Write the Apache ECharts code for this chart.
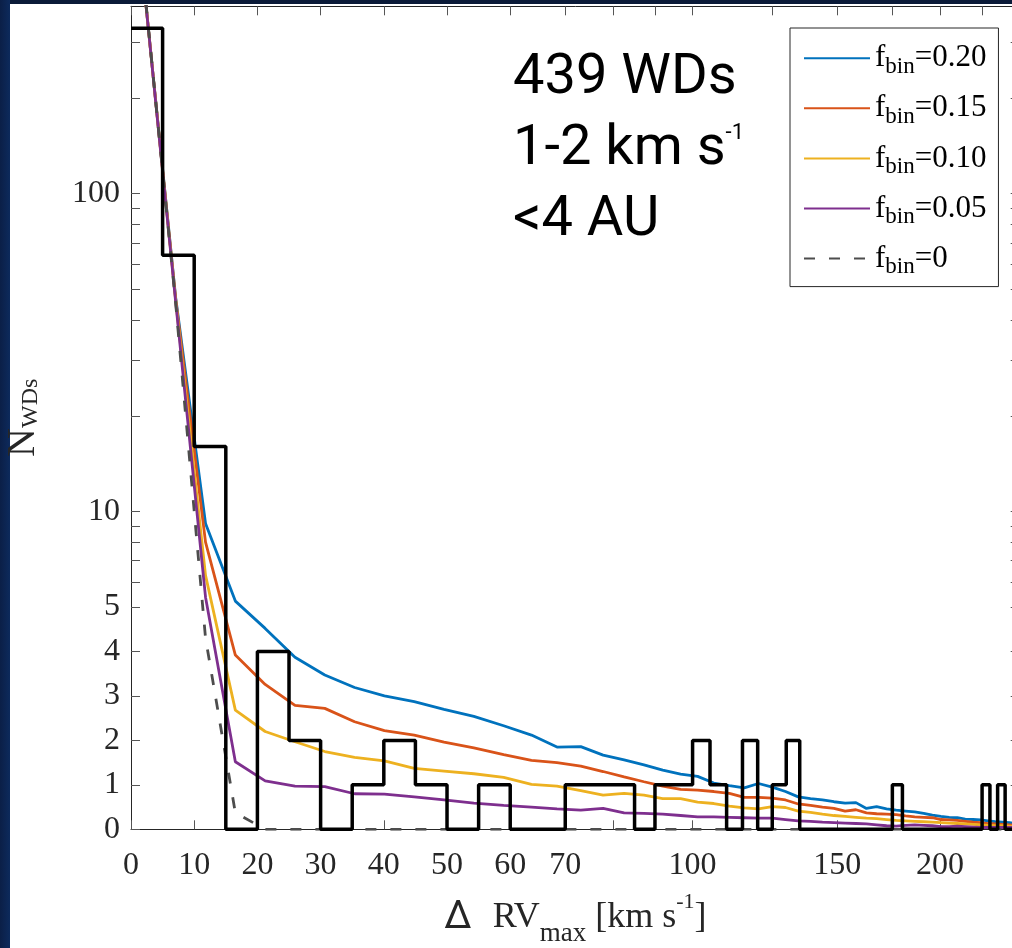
<!DOCTYPE html>
<html><head><meta charset="utf-8">
<script src="https://cdn.jsdelivr.net/npm/echarts@6/dist/echarts.min.js"></script>
<style>
html,body{margin:0;padding:0;width:1012px;height:948px;overflow:hidden;}
body{background:
 linear-gradient(to right, #0b1f47 0px, #0d2a5c 10px, transparent 10px),
 linear-gradient(to bottom, #0a1a38 0px, #0a1a38 4px, #ffffff 4px);}
#chart{position:absolute;left:0;top:0;width:1030px;height:948px;}
</style></head><body><div id="chart"></div>
<script>
// ---------- data ----------
const binWidth = 5;
const histCounts = [332,64,16,0,4,2,0,1,2,1, 0,1,0,0,1,1,1,0,1,1, 2,1,0,2,0,1,2,0,0,0, 0,0,0,0,0,1,0,0,0,0, 0,0,0,0,0,1,0,1,0,0];
const modelStep = 4.717; // model curves sampled at bin centres
const fbin20 = [395,47,9.16,5.22,4.52,3.87,3.47,3.19,3.0,2.87, 2.70,2.54,2.33,2.12,1.85,1.86,1.67,1.56,1.45,1.33, 1.24,1.19,1.04,0.98,0.93,1.03,0.95,0.85,0.73,0.69, 0.66,0.62,0.59,0.60,0.47,0.51,0.46,0.43,0.41,0.39, 0.36,0.32,0.29,0.27,0.26,0.23,0.22,0.21,0.19,0.17, 0.16,0.15,0.13];
const fbin15 = [395,46.5,8.0,3.92,3.26,2.79,2.72,2.42,2.22,2.12, 1.96,1.83,1.68,1.55,1.50,1.42,1.30,1.18,1.07,0.97, 0.90,0.88,0.85,0.81,0.72,0.72,0.70,0.66,0.57,0.54, 0.50,0.47,0.41,0.44,0.37,0.35,0.34,0.33,0.30,0.28, 0.27,0.26,0.22,0.21,0.20,0.18,0.16,0.15,0.13,0.12, 0.11,0.10,0.09];
const fbin10 = [395,46,6.29,2.68,2.20,1.97,1.75,1.62,1.54,1.37, 1.31,1.25,1.17,1.01,0.97,0.87,0.77,0.81,0.77,0.69, 0.69,0.61,0.58,0.52,0.48,0.46,0.51,0.49,0.41,0.38, 0.34,0.31,0.29,0.27,0.25,0.24,0.22,0.20,0.19,0.18, 0.17,0.16,0.15,0.14,0.13,0.12,0.11,0.10,0.09,0.08, 0.08,0.07,0.06];
const fbin05 = [395,45.5,5.37,1.52,1.09,0.97,0.96,0.80,0.79,0.73, 0.66,0.59,0.54,0.50,0.46,0.43,0.47,0.37,0.36,0.34, 0.31,0.28,0.28,0.27,0.26,0.25,0.25,0.22,0.19,0.18, 0.16,0.15,0.14,0.13,0.12,0.10,0.08,0.07,0.09,0.10, 0.09,0.08,0.06,0.06,0.07,0.06,0.05,0.04,0.04,0.04, 0.04,0.04,0.04];
const fbin00 = [400,45,4.30,0.37,0,0,0,0,0,0, 0,0,0,0,0,0,0,0,0,0, 0,0,0,0,0,0,0,0,0,0, 0,0,0,0,0,0,0,0,0,0, 0,0,0,0,0,0,0,0,0,0, 0,0,0];
const seriesNames = ['f_bin=0.20','f_bin=0.15','f_bin=0.10','f_bin=0.05','f_bin=0'];
const xLabelVals = [0,10,20,30,40,50,60,70,100,150,200];
const xTickVals = [0,10,20,30,40,50,60,70,80,90,100,125,150,175,200,225,250];
const yLabelVals = [0,1,2,3,4,5,10,100];
const yTickVals = [0,1,2,3,4,5,6,7,8,9,10,20,30,40,50,60,70,80,90,100,200,300];
const xMaxVal = 250, yMaxVal = 389;

// ---------- axis transforms (linear below break, logarithmic above) ----------
const X_BREAK = 60, X_DEC = 130.06, Y_BREAK = 5, Y_DEC = 7.147;
const xTx = x => x <= X_BREAK ? x : X_BREAK + X_DEC * Math.log10(x / X_BREAK);
const yTx = y => y <= Y_BREAK ? y : Y_BREAK + Y_DEC * Math.log10(y / Y_BREAK);
const labelFor = (vals, tx) => v => { for (const L of vals) if (Math.abs(tx(L) - v) < 1e-6) return String(L); return ''; };

const modelData = arr => arr.map((v, k) => [xTx((k + 0.5) * modelStep), yTx(v)]);
const histData = histCounts.map((c, i) => [xTx(i * binWidth), yTx(c)]);
histData.push([xTx(histCounts.length * binWidth), yTx(histCounts[histCounts.length - 1])]);

const colors = ['#0072BD','#D95319','#EDB120','#7E2F8E','#4d4d4d'];
const curves = [fbin20, fbin15, fbin10, fbin05, fbin00];

const SERIF = 'Liberation Serif';
const axisCol = '#262626';
const tickStyle = {show:true, inside:true, length:9, lineStyle:{color:'#555', width:1}};

const chart = echarts.init(document.getElementById('chart'), null, {renderer:'canvas'});
chart.setOption({
  animation:false,
  backgroundColor:'transparent',
  grid:{left:131, top:6.3, width:888.7, height:823, containLabel:false, outerBoundsMode:'none'},
  xAxis:[{
    type:'value', position:'bottom', min:0, max:xTx(xMaxVal),
    axisLine:{show:true, onZero:false, lineStyle:{color:axisCol, width:1}},
    axisTick:Object.assign({customValues:xTickVals.map(xTx)}, tickStyle),
    axisLabel:{customValues:xLabelVals.map(xTx), formatter:labelFor(xLabelVals, xTx), fontFamily:SERIF, fontSize:32, color:axisCol, margin:20},
    splitLine:{show:false},
    name:'{d|Δ}{t|RV}{sub|max}{t| [km s}{sup|-1}{t|]}',
    nameLocation:'middle', nameGap:59,
    nameTextStyle:{rich:{
      d:{fontFamily:'Roboto', fontSize:39, color:axisCol, lineHeight:59, padding:[0,21,0,0]},
      t:{fontFamily:SERIF, fontSize:36, color:axisCol, lineHeight:59},
      sub:{fontFamily:SERIF, fontSize:27, color:axisCol, verticalAlign:'bottom'},
      sup:{fontFamily:SERIF, fontSize:22, color:axisCol, verticalAlign:'top', padding:[3,0,0,0]}
    }}
  },{
    type:'value', position:'top', min:0, max:xTx(xMaxVal),
    axisLine:{show:true, onZero:false, lineStyle:{color:axisCol, width:1}},
    axisTick:Object.assign({customValues:xTickVals.map(xTx)}, tickStyle),
    axisLabel:{show:false}, splitLine:{show:false}
  }],
  yAxis:[{
    type:'value', position:'left', min:0, max:yTx(yMaxVal),
    axisLine:{show:true, onZero:false, lineStyle:{color:axisCol, width:1}},
    axisTick:Object.assign({customValues:yTickVals.map(yTx)}, tickStyle),
    axisLabel:{customValues:yLabelVals.map(yTx), formatter:labelFor(yLabelVals, yTx), fontFamily:SERIF, fontSize:32, color:axisCol, margin:11},
    splitLine:{show:false},
    name:'{t|N}{sub|WDs}', nameLocation:'middle', nameGap:88,
    nameTextStyle:{rich:{
      t:{fontFamily:SERIF, fontSize:40, color:axisCol, lineHeight:39},
      sub:{fontFamily:SERIF, fontSize:24, color:axisCol, verticalAlign:'bottom'}
    }}
  },{
    type:'value', position:'right', min:0, max:yTx(yMaxVal),
    axisLine:{show:true, onZero:false, lineStyle:{color:axisCol, width:1}},
    axisTick:Object.assign({customValues:yTickVals.map(yTx)}, tickStyle),
    axisLabel:{show:false}, splitLine:{show:false}
  }],
  legend:{
    data:seriesNames, orient:'vertical', left:790, top:28,
    padding:[14.7,12,8,13], itemGap:14.6, itemWidth:66, itemHeight:14,
    itemStyle:{opacity:0},
    backgroundColor:'#ffffff', borderColor:'#262626', borderWidth:1,
    formatter:name => '{f|f}{s|bin}{v|=' + name.split('=')[1] + '}',
    textStyle:{rich:{
      f:{fontFamily:SERIF, fontSize:31, color:'#000', lineHeight:40},
      v:{fontFamily:SERIF, fontSize:31, color:'#000', lineHeight:40},
      s:{fontFamily:SERIF, fontSize:23, color:'#000', lineHeight:10, verticalAlign:'bottom'}
    }}
  },
  graphic:[{
    type:'text', left:513, top:51, z:10,
    style:{
      text:'{a|439 WDs}\n{a|1-2 km s}{p|-1}\n{a|<4 AU}',
      rich:{
        a:{fontFamily:'Roboto', fontSize:56, fill:'#000', lineHeight:71},
        p:{fontFamily:'Roboto', fontSize:22, fill:'#000', verticalAlign:'top', padding:[8,0,0,0]}
      }
    }
  }],
  series:[
    ...curves.map((arr, i) => ({
      name:seriesNames[i], type:'line', data:modelData(arr), showSymbol:false, symbol:'none',
      lineStyle:{color:colors[i], width:2.8, type: i === 4 ? [11,14] : 'solid'},
      itemStyle:{color:colors[i]}, z:2
    })),
    {name:'histogram', type:'line', step:'end', data:histData, showSymbol:false, symbol:'none',
     lineStyle:{color:'#000', width:3.5}, itemStyle:{color:'#000'}, z:3}
  ]
});
</script></body></html>
